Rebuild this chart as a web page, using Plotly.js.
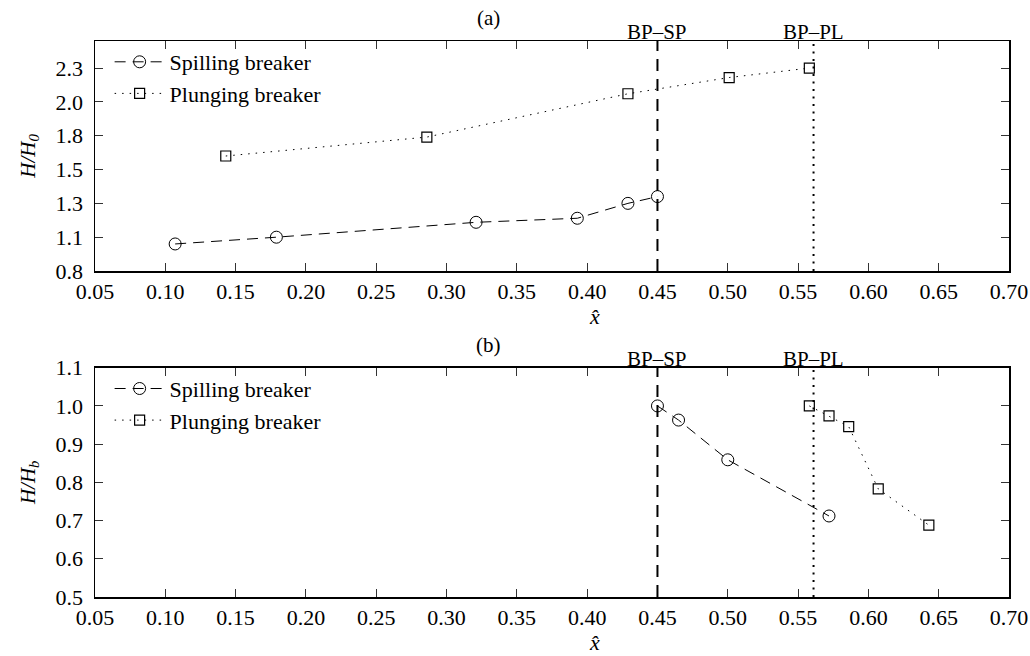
<!DOCTYPE html>
<html>
<head>
<meta charset="utf-8">
<script src="https://cdn.plot.ly/plotly-3.0.1.min.js"></script>
<style>html,body{margin:0;padding:0;background:#fff;}#chart{width:1030px;height:656px;}</style>
</head>
<body>
<div id="chart"></div>
<script>
// ---- data ----
const spillXa = [0.107, 0.179, 0.321, 0.393, 0.429, 0.450];
const spillYa = [1.00, 1.05, 1.16, 1.19, 1.30, 1.35];
const plungeXa = [0.143, 0.286, 0.429, 0.501, 0.558];
const plungeYa = [1.65, 1.79, 2.11, 2.23, 2.30];

const spillXb = [0.450, 0.465, 0.500, 0.572];
const spillYb = [1.00, 0.963, 0.859, 0.712];
const plungeXb = [0.558, 0.572, 0.586, 0.607, 0.643];
const plungeYb = [1.00, 0.974, 0.946, 0.783, 0.688];

const breakX = [0.45, 0.561];
const breakLabels = ['BP\u2013SP', 'BP\u2013PL'];

const xTicks = [0.05,0.10,0.15,0.20,0.25,0.30,0.35,0.40,0.45,0.50,0.55,0.60,0.65,0.70];
const xTickText = ['0.05','0.10','0.15','0.20','0.25','0.30','0.35','0.40','0.45','0.50','0.55','0.60','0.65','0.70'];
const yTicksA = [0.8, 1.05, 1.3, 1.55, 1.8, 2.05, 2.3];
const yTickTextA = ['0.8','1.1','1.3','1.5','1.8','2.0','2.3'];
const yTicksB = [0.5,0.6,0.7,0.8,0.9,1.0,1.1];
const yTickTextB = ['0.5','0.6','0.7','0.8','0.9','1.0','1.1'];

const FONT = '"Liberation Serif", "DejaVu Serif", serif';
const spillLine = {color:'black', width:1, dash:'11px,7px'};
const plungeLine = {color:'black', width:1, dash:'1.5px,6px'};
const circ = {symbol:'circle-open', size:12, color:'black', line:{width:1, color:'black'}};
const sq = {symbol:'square-open', size:10, color:'black', line:{width:1.2, color:'black'}};

const traces = [
  {x:spillXa, y:spillYa, xaxis:'x', yaxis:'y', mode:'lines+markers', name:'Spilling breaker', line:spillLine, marker:circ, legend:'legend'},
  {x:plungeXa, y:plungeYa, xaxis:'x', yaxis:'y', mode:'lines+markers', name:'Plunging breaker', line:plungeLine, marker:sq, legend:'legend'},
  {x:spillXb, y:spillYb, xaxis:'x2', yaxis:'y2', mode:'lines+markers', name:'Spilling breaker', line:spillLine, marker:circ, legend:'legend2'},
  {x:plungeXb, y:plungeYb, xaxis:'x2', yaxis:'y2', mode:'lines+markers', name:'Plunging breaker', line:plungeLine, marker:sq, legend:'legend2'}
];

function xAxis(anchor){
  return {anchor:anchor, range:[0.05,0.70], tickmode:'array', tickvals:xTicks, ticktext:xTickText,
    showline:true, mirror:'allticks', ticks:'inside', ticklen:8, tickwidth:1, tickcolor:'#333',
    linecolor:'black', linewidth:1.5, showgrid:false, zeroline:false,
    tickfont:{family:FONT, size:22, color:'black'}, ticklabelstandoff:0};
}
function yAxis(anchor, domain, range, vals, text, title){
  return {anchor:anchor, domain:domain, range:range, tickmode:'array', tickvals:vals, ticktext:text,
    showline:true, mirror:'allticks', ticks:'inside', ticklen:8, tickwidth:1, tickcolor:'#333',
    linecolor:'black', linewidth:1.5, showgrid:false, zeroline:false,
    tickfont:{family:FONT, size:22, color:'black'}, ticklabelstandoff:6,
    title:{text:title, font:{family:FONT, size:21, color:'black'}, standoff:14}};
}

const shapes = [];
const annotations = [];
[['x','y'],['x2','y2']].forEach(function(ax){
  breakX.forEach(function(bx, i){
    shapes.push({type:'line', xref:ax[0], yref:ax[1]+' domain', x0:bx, x1:bx, y0:0, y1:1,
      line:{color:'black', width:2, dash: i===0 ? '12px,8px' : '2px,5.5px'}});
    annotations.push({xref:ax[0], yref:ax[1]+' domain', x:bx, y:1, yshift:9, yanchor:'middle', xanchor:'center',
      showarrow:false, text:breakLabels[i], font:{family:FONT, size:21, color:'black'}});
  });
  annotations.push({xref:'paper', yref:ax[1]+' domain', x:0.43, y:1, yshift:23, yanchor:'middle', xanchor:'center',
    showarrow:false, text: ax[0]==='x' ? '(a)' : '(b)', font:{family:FONT, size:21, color:'black'}});
  annotations.push({xref:'paper', yref:ax[1]+' domain', x:0.547, y:0, yshift:-45, yanchor:'middle', xanchor:'center',
    showarrow:false, text:'<i>x\u0302</i>', font:{family:FONT, size:22, color:'black'}});
});

const legendBase = {xref:'paper', yref:'paper', x:0.016, xanchor:'left', yanchor:'top', bgcolor:'rgba(0,0,0,0)',
  borderwidth:0, font:{family:FONT, size:22, color:'black'}, tracegroupgap:0, itemwidth:50};

const layout = {
  width:1030, height:656,
  margin:{l:95, r:21, t:41, b:59},
  paper_bgcolor:'white', plot_bgcolor:'white',
  font:{family:FONT, size:22, color:'black'},
  showlegend:true,
  xaxis: xAxis('y'),
  yaxis: yAxis('x', [0.5863, 1], [0.8, 2.5], yTicksA, yTickTextA, '<i>H/H</i><sub><i>0</i></sub>'),
  xaxis2: xAxis('y2'),
  yaxis2: yAxis('x2', [0, 0.4124], [0.5, 1.1], yTicksB, yTickTextB, '<i>H/H</i><sub><i>b</i></sub>'),
  legend: Object.assign({}, legendBase, {y:1.0}),
  legend2: Object.assign({}, legendBase, {y:0.4124}),
  shapes:shapes,
  annotations:annotations
};

Plotly.newPlot('chart', traces, layout, {staticPlot:true, displayModeBar:false});
</script>
</body>
</html>
